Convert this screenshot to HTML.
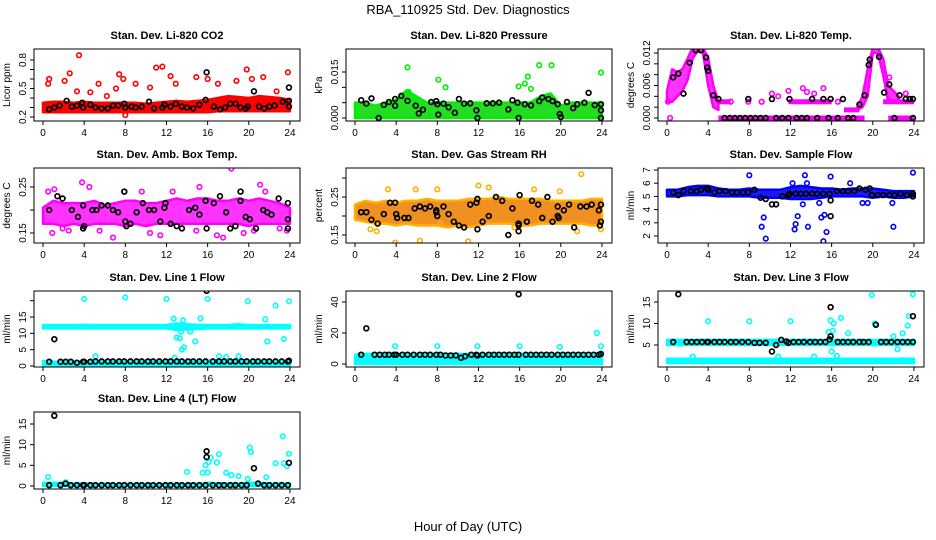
<!DOCTYPE html>
<html><head><meta charset="utf-8"><style>
body{margin:0;background:#fff}
svg{display:block;font-family:"Liberation Sans",sans-serif}
</style></head><body>
<svg id="chart" width="936" height="540" viewBox="0 0 936 540" xmlns="http://www.w3.org/2000/svg">
<text x="468" y="14" text-anchor="middle" font-size="13">RBA_110925  Std. Dev. Diagnostics</text>
<text x="468" y="531" text-anchor="middle" font-size="13">Hour of Day (UTC)</text>
</svg>
<script>
const hours=[0,1,2,3,4,5,6,7,8,9,10,11,12,13,14,15,16,17,18,19,20,21,22,23,24];
const xTicks=[0,4,8,12,16,20,24];
// CO2
const co2Lo=[0.25,0.25,0.25,0.25,0.25,0.25,0.25,0.25,0.25,0.25,0.25,0.25,0.25,0.25,0.25,0.25,0.25,0.26,0.26,0.26,0.26,0.26,0.26,0.26,0.26];
const co2Hi=[0.35,0.36,0.36,0.35,0.36,0.35,0.35,0.35,0.35,0.35,0.34,0.35,0.36,0.37,0.36,0.37,0.38,0.40,0.42,0.41,0.40,0.42,0.41,0.40,0.38];
const co2Out=[[0.5,0.55],[0.6,0.6],[2.1,0.58],[2.6,0.66],[3.3,0.47],[3.5,0.85],[4.6,0.46],[5.4,0.55],[6.2,0.42],[7.1,0.5],[7.4,0.65],[7.6,0.95],[7.8,0.6],[8.0,0.22],[9.0,0.55],[10.4,0.51],[11.0,0.72],[11.6,0.73],[12.4,0.63],[12.9,0.55],[14.9,0.62],[16.0,0.6],[17.0,0.55],[18.8,0.58],[19.8,0.7],[20.3,0.6],[21.4,0.62],[22.7,0.47],[23.8,0.67]];
const co2Black=[[0.6,0.28],[1.1,0.3],[1.6,0.32],[2.3,0.37],[2.8,0.31],[3.3,0.32],[3.8,0.35],[3.9,0.3],[4.6,0.33],[5.1,0.3],[5.7,0.29],[6.3,0.29],[6.8,0.32],[7.3,0.32],[7.9,0.34],[8.0,0.30],[8.6,0.31],[9.0,0.3],[9.6,0.31],[10.3,0.36],[10.8,0.29],[11.6,0.3],[11.8,0.33],[12.4,0.31],[12.9,0.34],[13.5,0.31],[14.0,0.3],[14.6,0.29],[15.2,0.33],[15.8,0.38],[15.9,0.67],[16.6,0.31],[17.2,0.28],[17.7,0.3],[18.2,0.34],[18.7,0.34],[19.2,0.3],[19.7,0.29],[19.9,0.31],[20.5,0.47],[21.0,0.31],[21.5,0.29],[22.0,0.31],[22.5,0.32],[23.3,0.36],[23.9,0.37],[23.9,0.31],[23.9,0.51]];
// Pressure
const presLo=[0,0,0,0,0,0,0,0,0,0,0,0,0,0,0,0,0,0,0,0,0,0,0,0,0];
const presHi=[0.005,0.005,0.004,0.005,0.006,0.009,0.007,0.005,0.005,0.005,0.005,0.005,0.005,0.005,0.005,0.005,0.005,0.005,0.007,0.008,0.004,0.005,0.005,0.005,0.005];
const presOut=[[5.1,0.0165],[8.1,0.0125],[8.8,0.010],[15.9,0.0103],[16.5,0.0112],[16.8,0.0135],[17.1,0.0095],[17.9,0.0172],[19.1,0.0172],[23.9,0.0148],[5.2,0.0085],[5.9,0.0065]];
const presBlack=[[0.6,0.0058],[1.1,0.0047],[1.6,0.0064],[2.3,0],[2.8,0.0043],[3.3,0.0052],[3.9,0.004],[3.9,0.0062],[4.5,0.0072],[5.1,0.0056],[5.9,0.004],[6.2,0.0015],[6.6,0.0027],[7.4,0.0052],[7.9,0.0055],[8.0,0.0045],[8.1,0.0011],[8.6,0.0047],[9.1,0.0035],[9.7,0.0017],[10.1,0.0062],[10.6,0.0047],[11.2,0.0048],[11.8,0.0025],[11.9,0],[12.8,0.0048],[13.4,0.0048],[14.0,0.005],[14.9,0.0028],[15.3,0.0058],[15.8,0.005],[15.9,0],[16.5,0.0045],[17.1,0.0041],[17.9,0.0055],[18.2,0.0067],[18.8,0.0062],[19.2,0.0055],[19.7,0.0045],[19.9,0.0013],[20.0,0.0003],[20.6,0.0052],[21.2,0.0032],[21.6,0.0045],[22.3,0.005],[22.7,0.0082],[23.3,0.0042],[23.9,0.0045],[23.9,0],[23.9,0.0025]];
// Li-820 temp
const tempBandAx=[0,0.5,1,1.5,2,2.5,3,3.5,4,4.5,5];
const tempBandALo=[0.003,0.003,0.004,0.005,0.007,0.011,0.0125,0.012,0.006,0.002,0.0015];
const tempBandAHi=[0.005,0.009,0.0085,0.009,0.011,0.013,0.013,0.013,0.011,0.006,0.003];
const tempBandBx=[18.5,19,19.5,20,20.5,21,21.5,22,22.5];
const tempBandBLo=[0.0015,0.002,0.004,0.012,0.012,0.008,0.003,0.003,0.003];
const tempBandBHi=[0.002,0.004,0.009,0.013,0.013,0.011,0.006,0.005,0.004];
const tempStrokes=[[5,19.2,0],[21.5,24,0],[11.8,16,0.003],[17.2,18.7,0.0015],[21,24,0.003],[5,6.2,0.003]];
const tempOut=[[0.3,0],[0.1,0.003],[6.2,0.003],[7.9,0.003],[9.2,0.003],[10.2,0.0045],[10.8,0.004],[11.8,0.005],[13.2,0.0055],[13.6,0.0048],[14.3,0.0045],[15.2,0.0055],[16.6,0.003],[21.6,0.0075],[23.2,0.0045]];
const tempBlack=[[0.6,0.0075],[1.1,0.0082],[1.6,0.0045],[2.2,0.0102],[2.8,0.0125],[3.3,0.0125],[3.8,0.0112],[3.9,0.0093],[4.0,0.0087],[4.5,0.0042],[5.0,0.0035],[5.6,0],[6.1,0],[6.6,0],[7.1,0],[7.6,0],[7.9,0.0035],[8.1,0],[8.6,0],[9.1,0],[9.6,0],[10.2,0.0035],[10.6,0],[11.2,0],[11.8,0],[11.9,0.0035],[12.6,0],[13.1,0],[13.6,0],[14.1,0.0035],[14.6,0],[15.2,0.0035],[15.7,0],[15.9,0.0035],[16.6,0],[17.1,0.0035],[17.6,0],[18.1,0],[18.7,0.0025],[19.2,0.0042],[19.6,0.0098],[19.7,0.0108],[20.6,0.0113],[21.1,0.0047],[21.6,0.0062],[22.1,0],[22.6,0.0042],[23.2,0.0035],[23.6,0.0035],[23.9,0.0035],[23.9,0]];
// Amb box temp
const ambLo=[0.17,0.17,0.165,0.17,0.165,0.17,0.17,0.17,0.165,0.17,0.165,0.17,0.17,0.17,0.17,0.17,0.17,0.17,0.17,0.17,0.165,0.17,0.17,0.17,0.17];
const ambHi=[0.205,0.22,0.215,0.215,0.215,0.22,0.21,0.215,0.22,0.22,0.215,0.215,0.22,0.225,0.22,0.225,0.225,0.22,0.22,0.225,0.22,0.225,0.22,0.215,0.205];
const ambOut=[[0.5,0.24],[1.1,0.245],[0.9,0.15],[1.9,0.16],[2.5,0.155],[3.8,0.26],[4.5,0.25],[5.5,0.155],[6.8,0.14],[7.9,0.24],[9.6,0.24],[10.4,0.15],[11.4,0.145],[12.6,0.24],[14.9,0.155],[15.2,0.25],[16.9,0.145],[17.5,0.14],[18.3,0.29],[19.5,0.15],[20.5,0.155],[21.1,0.255],[21.6,0.24],[23.0,0.16],[23.7,0.155]];
const ambBlack=[[0.6,0.2],[1.4,0.23],[1.9,0.225],[2.8,0.2],[3.4,0.185],[3.9,0.21],[3.9,0.16],[4.0,0.165],[4.8,0.2],[5.2,0.2],[5.7,0.21],[6.3,0.21],[6.8,0.2],[7.3,0.195],[7.9,0.24],[8.0,0.175],[8.1,0.165],[8.5,0.17],[9.1,0.195],[9.7,0.215],[10.3,0.2],[10.8,0.2],[11.4,0.175],[11.8,0.205],[11.9,0.215],[12.4,0.17],[13.0,0.165],[13.5,0.16],[14.2,0.2],[14.8,0.205],[15.2,0.19],[15.8,0.22],[15.9,0.16],[16.6,0.215],[17.2,0.23],[17.8,0.195],[18.2,0.16],[18.7,0.165],[19.2,0.24],[19.2,0.22],[19.7,0.185],[20.1,0.18],[20.7,0.16],[21.4,0.2],[21.8,0.195],[22.2,0.19],[22.9,0.225],[23.8,0.215],[23.8,0.18],[23.8,0.16]];
// Gas stream RH
const rhLo=[0.19,0.185,0.18,0.18,0.175,0.18,0.175,0.175,0.175,0.17,0.175,0.17,0.175,0.18,0.18,0.18,0.175,0.175,0.18,0.18,0.18,0.18,0.18,0.175,0.175];
const rhHi=[0.23,0.24,0.235,0.24,0.235,0.24,0.24,0.245,0.24,0.24,0.24,0.245,0.245,0.245,0.25,0.245,0.245,0.245,0.245,0.24,0.24,0.24,0.24,0.245,0.245];
const rhOut=[[1.5,0.165],[2.1,0.16],[3.9,0.13],[3.2,0.27],[5.9,0.27],[6.3,0.135],[8.0,0.27],[8.3,0.18],[11.0,0.133],[12.0,0.28],[13.0,0.275],[15.5,0.17],[15.9,0.17],[17.4,0.27],[19.9,0.265],[21.6,0.16],[22.0,0.31],[23.9,0.165]];
const rhBlack=[[0.6,0.21],[1.1,0.21],[1.6,0.19],[2.2,0.18],[2.8,0.205],[3.4,0.235],[3.9,0.235],[4.0,0.205],[4.1,0.195],[4.8,0.195],[5.2,0.195],[5.8,0.22],[6.3,0.225],[6.8,0.22],[7.3,0.225],[7.9,0.215],[7.9,0.21],[8.0,0.2],[8.6,0.225],[9.1,0.205],[9.6,0.185],[10.1,0.175],[10.6,0.17],[11.2,0.23],[11.8,0.235],[11.9,0.245],[11.9,0.165],[12.4,0.185],[13.0,0.2],[13.7,0.25],[14.3,0.24],[14.9,0.15],[15.3,0.22],[15.9,0.18],[15.9,0.175],[15.9,0.16],[16.0,0.255],[16.7,0.185],[17.2,0.24],[17.8,0.23],[18.2,0.195],[18.7,0.25],[19.2,0.185],[19.7,0.225],[19.7,0.2],[19.8,0.195],[20.3,0.215],[20.8,0.23],[21.3,0.17],[21.9,0.225],[22.5,0.225],[23.0,0.23],[23.7,0.215],[23.8,0.175],[23.9,0.23],[23.9,0.185]];
// Sample flow
const sfLo=[5.0,5.0,5.1,5.1,5.1,5.0,5.0,5.0,5.0,4.9,4.9,4.9,4.8,4.8,4.8,4.9,5.0,5.0,5.0,5.0,4.9,5.0,4.9,4.9,5.0];
const sfHi=[5.5,5.5,5.7,5.8,5.8,5.6,5.5,5.5,5.6,5.5,5.5,5.5,5.7,5.8,5.7,5.6,5.6,5.5,5.6,5.6,5.6,5.5,5.4,5.4,5.4];
const sfOut=[[8.0,6.6],[9.2,2.7],[9.4,3.4],[9.6,1.8],[12.4,2.5],[12.5,2.9],[12.7,3.5],[13.4,6.6],[13.6,6.0],[13.7,2.7],[15.0,3.4],[15.2,1.6],[15.3,3.6],[15.5,2.3],[15.9,6.5],[17.8,6.0],[19.0,4.5],[19.5,4.5],[22.0,2.7],[21.9,4.5],[23.9,6.8],[12.2,6.0],[13.2,4.4],[14.8,4.5]];
const sfBlack=[[0.6,5.3],[1.1,5.1],[1.6,5.4],[2.3,5.4],[2.9,5.4],[3.3,5.5],[3.9,5.6],[4.0,5.5],[4.6,5.3],[5.1,5.4],[5.7,5.4],[6.3,5.3],[6.8,5.3],[7.4,5.3],[7.9,5.3],[8.5,5.5],[9.1,4.9],[9.6,4.8],[10.2,4.4],[10.6,4.4],[11.2,5.0],[11.8,5.1],[11.9,5.2],[12.5,5.2],[13.0,5.2],[13.5,5.2],[14.1,5.2],[14.6,5.2],[15.2,5.2],[15.8,5.2],[15.9,4.7],[15.9,3.5],[16.5,5.4],[17.1,5.4],[17.6,5.4],[18.2,5.4],[18.7,5.6],[19.3,5.5],[19.7,5.6],[19.9,5.1],[20.5,5.1],[21.0,5.1],[21.6,5.1],[22.1,5.1],[22.7,5.2],[23.3,5.1],[23.9,5.2],[23.9,5.0]];
// Line 1 flow
const l1Lo=[11.5,11.5,11.5,11.5,11.5,11.5,11.5,11.5,11.5,11.5,11.5,11.5,11.5,11.0,11.2,11.3,11.5,11.5,11.5,11.5,11.5,11.5,11.5,11.5,11.5];
const l1Hi=[12.5,12.5,12.5,12.5,12.6,12.5,12.5,12.5,12.5,12.5,12.5,12.5,12.5,13.0,12.8,12.6,12.5,12.5,12.5,12.8,12.5,12.5,12.5,12.5,12.5];
const l1Lo2=[0,0,0,0,0,0,0,0,0,0,0,0,0,0,0,0,0,0,0,0,0,0,0,0,0];
const l1Hi2=[1.5,1.3,1.3,1.3,1.4,1.5,1.5,1.5,1.5,1.5,1.5,1.5,1.5,1.5,1.5,1.5,1.6,1.8,1.6,1.6,1.5,1.5,1.5,1.5,1.5];
const l1Out=[[4.0,20.5],[8.0,21],[12.0,20.5],[16.0,20.5],[19.9,19.8],[22.6,18.5],[23.9,19.8],[12.7,14.5],[13.6,14],[15.3,14.6],[21.6,14.3],[13.0,8.7],[13.3,8.5],[13.5,5],[13.7,5.7],[14.8,7.5],[21.8,7.5],[23.4,8.3],[5.1,3],[17.1,3],[17.8,2.8],[19.0,3],[12.8,2.5],[13.4,10.5],[14.3,10.5]];
const l1Black=[[0.6,1.3],[1.1,8.2],[1.7,1.3],[2.2,1.3],[2.7,1.3],[3.3,1.0],[3.9,1.3],[4.0,1.3],[4.6,1.3],[5.1,1.4],[5.7,1.4],[6.3,1.4],[6.8,1.4],[7.4,1.4],[7.9,1.4],[8.5,1.4],[9.1,1.4],[9.6,1.4],[10.2,1.4],[10.7,1.4],[11.3,1.4],[11.9,1.4],[12.4,1.4],[13.0,1.4],[13.5,1.4],[14.1,1.4],[14.6,1.4],[15.2,1.4],[15.8,1.4],[15.9,23],[16.5,1.4],[17.1,1.4],[17.6,1.4],[18.2,1.4],[18.7,1.4],[19.3,1.4],[19.8,1.4],[20.4,1.4],[20.9,1.4],[21.5,1.4],[22.0,1.4],[22.6,1.4],[23.2,1.4],[23.8,1.4],[23.9,1.6]];
// Line 2 flow
const l2Lo=[0,0,0,0,0,0,0,0,0,0,0,0,0,0,0,0,0,0,0,0,0,0,0,0,0];
const l2Hi=[6,6.5,6.5,6.5,6.5,6.5,6.5,6.5,6.5,6.5,6.5,6.5,6.5,6.5,6.5,6.5,6.5,6.5,6.5,6.5,6.5,6.5,6.5,6.5,6.5];
const l2Out=[[3.9,11.5],[8.0,11.5],[11.9,11.5],[16.0,11.5],[19.9,11],[23.9,11.5],[23.5,20]];
const l2Black=[[0.6,6],[1.1,23],[1.9,6],[2.4,6],[2.9,6],[3.3,6],[3.8,6],[4.0,6],[4.6,6],[5.1,6],[5.7,6],[6.3,6],[6.8,6],[7.3,6],[7.9,6],[8.3,6],[8.8,5.5],[9.3,5.5],[9.8,5.5],[10.3,4],[10.7,5],[11.3,6],[11.8,6],[11.9,5.5],[12.4,6],[13.0,6],[13.5,6],[14.0,6],[14.5,6],[15.0,6],[15.5,6],[15.9,6],[15.9,45],[16.6,6],[17.1,6],[17.6,6],[18.1,6],[18.6,6],[19.1,6],[19.7,6],[20.2,6],[20.7,6],[21.2,6],[21.7,6],[22.2,6],[22.7,6],[23.2,6],[23.7,6],[23.9,6.5]];
// Line 3 flow
const l3Lo=[5,5,5,5,5,5,5,5,5,5,5,5,5,5,5,5,5,5,5,5,5,5,5,5,5];
const l3Hi=[6.2,6.2,6.2,6.2,6.2,6.2,6.2,6.2,6.2,6.2,6.2,6.2,6.2,6.2,6.2,6.2,6.2,6.2,6.2,6.2,6.2,6.2,6.2,6.2,6.2];
const l3Lo2=[0.8,0.8,0.8,0.8,0.8,0.8,0.8,0.8,0.8,0.8,0.8,0.8,0.8,0.8,0.8,0.8,0.8,0.8,0.8,0.8,0.8,0.8,0.8,0.8,0.8];
const l3Hi2=[1.8,1.8,1.8,1.8,1.8,1.8,1.8,1.8,1.8,1.8,1.8,1.8,1.8,1.8,1.8,1.8,1.8,1.8,1.8,1.8,1.8,1.8,1.8,1.8,1.8];
const l3Out=[[4.0,10.5],[8.0,10.5],[12.0,10.5],[15.9,10.7],[16.2,10],[16.1,8.3],[15.7,8],[16.9,11.3],[17.6,7.7],[19.9,16.6],[20.2,10],[22.0,7.0],[22.4,4],[22.9,7.7],[23.4,9.5],[23.5,11.7],[23.9,16.8],[2.5,2.3],[10.8,2.3],[14.3,2.3],[16.0,3.5],[16.5,2.5]];
const l3Black=[[0.6,5.7],[1.1,16.8],[1.9,5.7],[2.4,5.7],[2.9,5.7],[3.4,5.7],[3.9,5.7],[4.0,5.7],[4.6,5.7],[5.1,5.7],[5.6,5.7],[6.2,5.7],[6.7,5.7],[7.3,5.7],[7.9,5.7],[8.5,5.5],[9.0,5.5],[9.6,5.5],[10.2,3.5],[10.6,5],[11.1,6.2],[11.6,5.8],[11.8,5.5],[12.3,5.7],[12.8,5.7],[13.3,5.7],[13.9,5.7],[14.4,5.7],[14.9,5.7],[15.4,5.7],[15.8,6.3],[15.9,7],[15.9,13.8],[16.6,5.7],[17.1,5.7],[17.6,5.7],[18.1,5.7],[18.7,5.7],[19.1,5.7],[19.6,5.7],[20.3,9.7],[20.8,5.7],[21.3,5.7],[21.8,5.7],[22.4,5.7],[22.9,5.7],[23.4,5.7],[23.9,11.7],[23.9,5.7]];
// Line 4 (LT) flow
const l4Lo=[0,0,0,0,0,0,0,0,0,0,0,0,0,0,0,0,0,0,0,0,0,0,0,0,0];
const l4Hi=[0.8,0.8,0.8,0.6,0.6,0.5,0.5,0.5,0.5,0.5,0.5,0.5,0.5,0.5,0.5,0.5,0.8,0.7,0.6,0.6,0.8,0.8,0.6,0.6,0.6];
const l4Out=[[0.5,2.2],[14.0,3.4],[15.5,3.2],[15.8,5],[16.0,3.3],[16.1,5.8],[16.3,6.8],[16.9,5.7],[17.1,7.7],[17.8,3.2],[18.3,2.6],[19.0,2.4],[19.9,1.7],[20.1,9.3],[20.2,8.2],[21.7,2.1],[22.6,5.5],[23.3,12],[23.4,5.5],[23.7,4.8],[23.9,7.8],[2.2,0.9]];
const l4Black=[[0.6,0.2],[1.1,17],[1.7,0.2],[2.2,0.6],[2.7,0.2],[3.3,0.2],[3.9,0.2],[4.0,0.2],[4.6,0.2],[5.1,0.2],[5.7,0.2],[6.3,0.2],[6.8,0.2],[7.4,0.2],[7.9,0.2],[8.5,0.2],[9.1,0.2],[9.6,0.2],[10.2,0.2],[10.7,0.2],[11.3,0.2],[11.9,0.2],[12.4,0.2],[13.0,0.2],[13.5,0.2],[14.1,0.2],[14.6,0.2],[15.2,0.2],[15.8,0.2],[15.9,7],[15.9,8.4],[16.5,0.2],[17.1,0.2],[17.6,0.2],[18.2,0.2],[18.7,0.2],[19.3,0.2],[19.8,0.2],[20.5,4.3],[20.9,0.6],[21.5,0.2],[22.0,0.2],[22.6,0.2],[23.2,0.2],[23.8,0.2],[23.9,5.6]];

const NS="http://www.w3.org/2000/svg";
const svg=document.getElementById('chart');
function mk(tag,attrs,parent){const e=document.createElementNS(NS,tag);for(const k in attrs)e.setAttribute(k,attrs[k]);(parent||svg).appendChild(e);return e;}

const panels=[
 {name:'co2',title:'Stan. Dev. Li-820 CO2',yl:'Licor ppm',c:0,r:0,m:[0.2,117,0.8,60],ticks:[[0.2,'0.2'],[0.3,''],[0.4,''],[0.5,'0.5'],[0.6,''],[0.7,''],[0.8,'0.8']],col:'#ff0000',fill:'#ff0000',bands:[[hours,co2Lo,co2Hi]],out:co2Out,blk:co2Black},
 {name:'pressure',title:'Stan. Dev. Li-820 Pressure',yl:'kPa',c:1,r:0,m:[0,118,0.015,72],ticks:[[0,'0.000'],[0.005,''],[0.010,''],[0.015,'0.015']],col:'#00ee00',fill:'#22dd22',bands:[[hours,presLo,presHi]],out:presOut,blk:presBlack},
 {name:'li820-temp',title:'Stan. Dev. Li-820 Temp.',yl:'degrees C',c:2,r:0,m:[0,118,0.012,53],ticks:[[0,'0.000'],[0.002,''],[0.004,''],[0.006,'0.006'],[0.008,''],[0.010,''],[0.012,'0.012']],col:'#ff00ff',fill:'#ff33ff',bands:[[tempBandAx,tempBandALo,tempBandAHi],[tempBandBx,tempBandBLo,tempBandBHi]],strokes:tempStrokes,out:tempOut,blk:tempBlack},
 {name:'amb-box-temp',title:'Stan. Dev. Amb. Box Temp.',yl:'degrees C',c:0,r:1,m:[0.15,233,0.25,187],ticks:[[0.15,'0.15'],[0.2,''],[0.25,'0.25']],col:'#ff00ff',fill:'#ff33ff',bands:[[hours,ambLo,ambHi]],out:ambOut,blk:ambBlack},
 {name:'gas-stream-rh',title:'Stan. Dev. Gas Stream RH',yl:'percent',c:1,r:1,m:[0.15,235,0.25,197],ticks:[[0.15,'0.15'],[0.2,''],[0.25,'0.25'],[0.3,'']],col:'#ffb000',fill:'#f09020',bands:[[hours,rhLo,rhHi]],out:rhOut,blk:rhBlack},
 {name:'sample-flow',title:'Stan. Dev. Sample Flow',yl:'ml/min',c:2,r:1,m:[2,236,7,170],ticks:[[2,'2'],[3,'3'],[4,'4'],[5,'5'],[6,'6'],[7,'7']],col:'#0000ff',fill:'#1a1aff',bands:[[hours,sfLo,sfHi]],out:sfOut,blk:sfBlack},
 {name:'line1-flow',title:'Stan. Dev. Line 1 Flow',yl:'ml/min',c:0,r:2,m:[0,366,15,317],ticks:[[0,'0'],[5,'5'],[10,'10'],[15,'15'],[20,'']],col:'#00ffff',fill:'#00ffff',bands:[[hours,l1Lo,l1Hi],[hours,l1Lo2,l1Hi2]],out:l1Out,blk:l1Black},
 {name:'line2-flow',title:'Stan. Dev. Line 2 Flow',yl:'ml/min',c:1,r:2,m:[0,364,40,302],ticks:[[0,'0'],[20,'20'],[40,'40']],col:'#00ffff',fill:'#00ffff',bands:[[hours,l2Lo,l2Hi]],out:l2Out,blk:l2Black},
 {name:'line3-flow',title:'Stan. Dev. Line 3 Flow',yl:'ml/min',c:2,r:2,m:[5,345,15,302],ticks:[[5,'5'],[10,'10'],[15,'15']],col:'#00ffff',fill:'#00ffff',bands:[[hours,l3Lo,l3Hi],[hours,l3Lo2,l3Hi2]],out:l3Out,blk:l3Black},
 {name:'line4-flow',title:'Stan. Dev. Line 4 (LT) Flow',yl:'ml/min',c:0,r:3,m:[0,486,15,424],ticks:[[0,'0'],[5,'5'],[10,'10'],[15,'15']],col:'#00ffff',fill:'#00ffff',bands:[[hours,l4Lo,l4Hi]],out:l4Out,blk:l4Black}
];
const colL=[34,346,658], rowT=[49,168,291,412], rowB=[121,243,367,489], W=266;

panels.forEach(p=>{
 const L=colL[p.c],T=rowT[p.r],B=rowB[p.r];
 const xs=h=>L+9+h*10.29;
 const ys=v=>p.m[1]+(v-p.m[0])*(p.m[3]-p.m[1])/(p.m[2]-p.m[0]);
 const g=mk('g',{});
 
 
 const cid='clip-'+p.name;
 const cp=mk('clipPath',{id:cid},g);mk('rect',{x:L,y:T,width:W,height:B-T},cp);
 const t=mk('text',{x:L+W/2,y:T-10,'text-anchor':'middle','font-size':'11','font-weight':'bold'},g);t.textContent=p.title;
 
 
 const pl=mk('g',{'clip-path':'url(#'+cid+')'},g);
 p.bands.forEach(b=>{
  let pts=b[0].map((h,i)=>xs(h)+','+ys(b[2][i]));
  for(let i=b[0].length-1;i>=0;i--)pts.push(xs(b[0][i])+','+ys(b[1][i]));
  const e=mk('polygon',{points:pts.join(' '),fill:p.fill,stroke:p.col,'stroke-width':2.5,'stroke-linejoin':'round'},pl);
  
  
 });
 (p.strokes||[]).forEach(s=>{
  const e=mk('line',{x1:xs(s[0]),x2:xs(s[1]),y1:ys(s[2]),y2:ys(s[2]),stroke:p.col,'stroke-width':5},pl);
  
  
 });
 p.out.forEach(o=>{
  const e=mk('circle',{cx:xs(o[0]),cy:ys(o[1]),r:2.3,fill:'none',stroke:p.col,'stroke-width':1.6},pl);
  
  
 });
 p.blk.forEach(o=>{
  const e=mk('circle',{cx:xs(o[0]),cy:ys(o[1]),r:2.4,fill:'none',stroke:'#000','stroke-width':1.7},pl);
  
  
 });
 const fr=mk('rect',{x:L,y:T,width:W,height:B-T,fill:'none',stroke:'#000','stroke-width':1},g);
 
 
 xTicks.forEach(h=>{
  mk('line',{x1:xs(h),x2:xs(h),y1:B,y2:B+4,stroke:'#000'},g);
  const tx=mk('text',{x:xs(h),y:B+15,'text-anchor':'middle','font-size':'10'},g);tx.textContent=h;
  
  
 });
 p.ticks.forEach(tk=>{
  const y=ys(tk[0]);
  mk('line',{x1:L-4,x2:L,y1:y,y2:y,stroke:'#000'},g);
  if(tk[1]){const ty=mk('text',{x:0,y:0,'text-anchor':'middle','font-size':'10',transform:'translate('+(L-8)+','+y+') rotate(-90)'},g);ty.textContent=tk[1];
  
  }
 });
 const yl=mk('text',{x:0,y:0,'text-anchor':'middle','font-size':'10',transform:'translate('+(L-24)+','+((T+B)/2)+') rotate(-90)'},g);yl.textContent=p.yl;
 
 
});
</script>
</body></html>
